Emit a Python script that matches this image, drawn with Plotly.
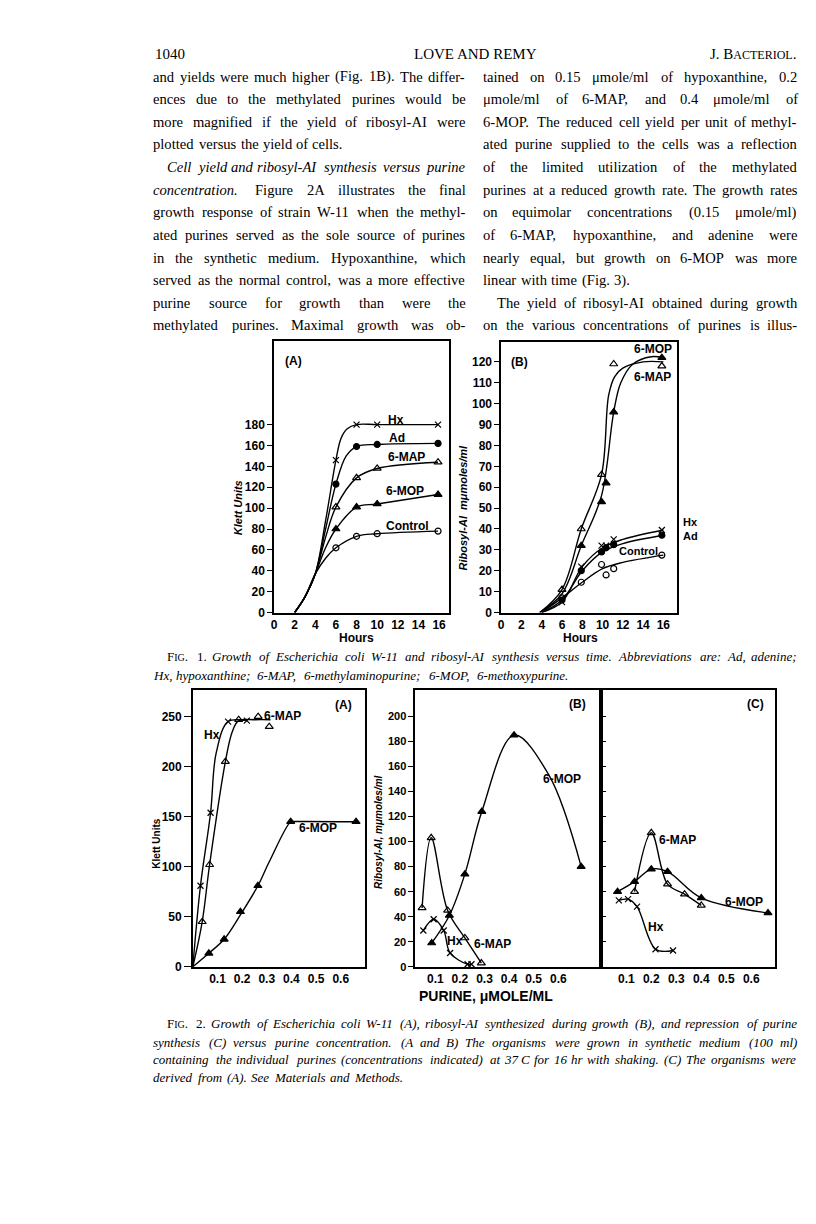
import plotly.graph_objects as go

W, H = 816, 1224

# ---------------- Fig. 1A : Klett units vs hours ----------------
f1a_hours = [6, 8, 10, 15.9]
f1a_hx = [146, 180, 180, 180]
f1a_ad = [123, 159, 161, 162]
f1a_map = [101, 129, 138, 144]
f1a_mop = [80, 101, 104, 113]
f1a_ctrl = [62, 73, 75.5, 78]
# hand-drawn curves (lag phase shared by all series)
lag_x = [2, 3, 4]
lag_y = [0, 15, 37]
f1a_hx_cx = [5, 6, 6.5, 7.1, 8, 10, 15.9]
f1a_hx_cy = [88, 146, 167, 176, 180, 180, 180]
f1a_ad_cx = [5, 6, 7, 8, 10, 15.9]
f1a_ad_cy = [80, 123, 150, 159, 161, 162]
f1a_map_cx = [5, 6, 8, 10, 15.9]
f1a_map_cy = [72, 101, 129, 138, 144]
f1a_mop_cx = [5, 6, 8, 10, 15.9]
f1a_mop_cy = [62, 80, 101, 104, 113]
f1a_ctrl_cx = [5, 6, 8, 10, 15.9]
f1a_ctrl_cy = [52, 62, 73, 75.5, 78]

# ---------------- Fig. 1B : ribosyl-AI vs hours ----------------
f1b_hours = [6, 7.9, 9.9, 10.35, 11.1, 15.85]
f1b_hx = [5, 22, 32, 32, 35, 39.5]
f1b_ad = [6, 20, 29, 31, 32.5, 37]
f1b_ctrl = [7, 14.5, 23, 18, 21, 27.5]
f1b_map_x = [6, 7.9, 9.9, 11.1, 15.85]
f1b_map = [11, 40, 66, 119, 118]
f1b_mop_x = [7.9, 9.9, 10.35, 11.1, 15.85]
f1b_mop = [32, 53, 62, 96, 122]
f1b_map_cx = [3.8, 6, 7.9, 9.9, 10.6, 11.2, 12, 14, 16]
f1b_map_cy = [0, 11, 40, 66, 104, 113, 117, 120, 120]
f1b_mop_cx = [3.8, 6, 7.9, 9.9, 11.1, 11.8, 13, 14.8, 16]
f1b_mop_cy = [0, 9, 32, 56, 96, 110, 119, 122.5, 122]
f1b_low_cx = [4, 6, 8, 10, 12, 16]
f1b_hx_cy = [0, 5, 22, 31, 35, 39.5]
f1b_ad_cy = [0, 6, 20, 29, 33, 37]
f1b_ctrl_cy = [0, 7, 14.5, 21, 24, 27.5]

# ---------------- Fig. 2A : Klett units vs purine ----------------
f2a_hx_x = [0.031, 0.072, 0.143, 0.219]
f2a_hx = [81, 154, 245, 246]
f2a_map_x = [0.038, 0.068, 0.132, 0.186, 0.265, 0.31]
f2a_map = [45, 102, 205, 247, 250, 240]
f2a_mop_x = [0.065, 0.127, 0.193, 0.264, 0.397, 0.662]
f2a_mop = [13.5, 27.5, 55, 81, 145, 145]
f2a_hx_cx = [0, 0.031, 0.072, 0.095, 0.143, 0.22]
f2a_hx_cy = [0, 81, 154, 214, 245, 246]
f2a_map_cx = [0, 0.038, 0.068, 0.132, 0.16, 0.186, 0.25, 0.315]
f2a_map_cy = [0, 45, 102, 205, 235, 246, 247, 247]
f2a_mop_cx = [0, 0.065, 0.127, 0.193, 0.264, 0.31, 0.397, 0.41, 0.662]
f2a_mop_cy = [0, 13.5, 27.5, 52, 81, 105, 145, 145.2, 145]

# ---------------- Fig. 2B : ribosyl-AI vs purine ----------------
f2b_hx_x = [0.051, 0.093, 0.134, 0.16, 0.231, 0.247]
f2b_hx = [29, 38, 29, 11, 2, 2]
f2b_map_x = [0.046, 0.083, 0.15, 0.22, 0.287]
f2b_map = [47, 103, 45, 23, 3]
f2b_mop_x = [0.085, 0.157, 0.22, 0.289, 0.42, 0.693]
f2b_mop = [19, 41, 74, 124, 185, 80]
f2b_mop_cx = [0.085, 0.157, 0.22, 0.289, 0.42, 0.562, 0.693]
f2b_mop_cy = [19, 41, 74, 124, 185, 153, 80]

# ---------------- Fig. 2C : repression vs purine ----------------
f2c_hx_x = [0.07, 0.107, 0.143, 0.217, 0.287]
f2c_hx = [53, 54, 48, 14, 13]
f2c_map_x = [0.133, 0.2, 0.265, 0.333, 0.4]
f2c_map = [60, 107, 66, 58, 49]
f2c_mop_x = [0.065, 0.133, 0.2, 0.265, 0.4, 0.667]
f2c_mop = [60, 68, 78, 76, 55, 43]

SYM = {
    "hx": ("x-thin-open", 6),
    "ad": ("circle", 6),
    "map": ("triangle-up-open", 7),
    "mop": ("triangle-up", 7),
    "ctrl": ("circle-open", 6),
}

fig = go.Figure()


def curve(x, y, n):
    fig.add_trace(go.Scatter(
        x=x, y=y, mode="lines", xaxis="x" + n, yaxis="y" + n,
        line=dict(color="black", width=1.4, shape="spline", smoothing=1.0),
        hoverinfo="skip", showlegend=False))


def marks(x, y, kind, n):
    sym, size = SYM[kind]
    fig.add_trace(go.Scatter(
        x=x, y=y, mode="markers", xaxis="x" + n, yaxis="y" + n, cliponaxis=False,
        marker=dict(symbol=sym, size=size, color="black",
                    line=dict(color="black", width=1.2)),
        showlegend=False))


# Fig 1A
curve(lag_x + f1a_hx_cx, lag_y + f1a_hx_cy, "")
curve(lag_x + f1a_ad_cx, lag_y + f1a_ad_cy, "")
curve(lag_x + f1a_map_cx, lag_y + f1a_map_cy, "")
curve(lag_x + f1a_mop_cx, lag_y + f1a_mop_cy, "")
curve(lag_x + f1a_ctrl_cx, lag_y + f1a_ctrl_cy, "")
marks(f1a_hours, f1a_hx, "hx", "")
marks(f1a_hours, f1a_ad, "ad", "")
marks(f1a_hours, f1a_map, "map", "")
marks(f1a_hours, f1a_mop, "mop", "")
marks(f1a_hours, f1a_ctrl, "ctrl", "")

# Fig 1B
curve(f1b_map_cx, f1b_map_cy, "2")
curve(f1b_mop_cx, f1b_mop_cy, "2")
curve(f1b_low_cx, f1b_hx_cy, "2")
curve(f1b_low_cx, f1b_ad_cy, "2")
curve(f1b_low_cx, f1b_ctrl_cy, "2")
marks(f1b_map_x, f1b_map, "map", "2")
marks(f1b_mop_x, f1b_mop, "mop", "2")
marks(f1b_hours, f1b_hx, "hx", "2")
marks(f1b_hours, f1b_ad, "ad", "2")
marks(f1b_hours, f1b_ctrl, "ctrl", "2")

# Fig 2A
curve(f2a_hx_cx, f2a_hx_cy, "3")
curve(f2a_map_cx, f2a_map_cy, "3")
curve(f2a_mop_cx, f2a_mop_cy, "3")
marks(f2a_hx_x, f2a_hx, "hx", "3")
marks(f2a_map_x, f2a_map, "map", "3")
marks(f2a_mop_x, f2a_mop, "mop", "3")

# Fig 2B
curve(f2b_hx_x, f2b_hx, "4")
curve(f2b_map_x, f2b_map, "4")
curve(f2b_mop_cx, f2b_mop_cy, "4")
marks(f2b_hx_x, f2b_hx, "hx", "4")
marks(f2b_map_x, f2b_map, "map", "4")
marks(f2b_mop_x, f2b_mop, "mop", "4")

# Fig 2C
curve(f2c_hx_x, f2c_hx, "5")
curve(f2c_map_x, f2c_map, "5")
curve(f2c_mop_x, f2c_mop, "5")
marks(f2c_hx_x, f2c_hx, "hx", "5")
marks(f2c_map_x, f2c_map, "map", "5")
marks(f2c_mop_x, f2c_mop, "mop", "5")

TICKFONT = dict(family="Liberation Sans", size=12, color="black", weight="bold")


def ax(x0, x1, **kw):
    d = dict(domain=[x0 / W, x1 / W], showline=True, linecolor="black", linewidth=1.5,
             mirror=True, showgrid=False, zeroline=False, ticks="outside",
             ticklen=5, tickwidth=1.3, tickcolor="black", tickfont=TICKFONT)
    d.update(kw)
    return d


def ay(top, bottom, anchor, **kw):
    d = dict(domain=[1 - bottom / H, 1 - top / H], anchor=anchor, showline=True,
             linecolor="black", linewidth=1.5, mirror=True, showgrid=False,
             zeroline=False, ticks="outside", ticklen=5, tickwidth=1.3,
             tickcolor="black", tickfont=TICKFONT)
    d.update(kw)
    return d


purine_ticks = [0.1, 0.2, 0.3, 0.4, 0.5, 0.6]
purine_text = ["0.1", "0.2", "0.3", "0.4", "0.5", "0.6"]

fig.update_layout(
    width=W, height=H, margin=dict(l=0, r=0, t=0, b=0),
    paper_bgcolor="white", plot_bgcolor="white", showlegend=False,
    xaxis=ax(264, 440, anchor="y", range=[0, 17], tickvals=list(range(0, 17, 2)), ticks=""),
    yaxis=ay(335, 608, "x", range=[0, 260], tickvals=list(range(0, 181, 20))),
    xaxis2=ax(492, 668, anchor="y2", range=[0, 17.3], tickvals=list(range(0, 17, 2)), ticks=""),
    yaxis2=ay(336, 608, "x2", range=[0, 129.5], tickvals=list(range(0, 121, 10))),
    xaxis3=ax(182.5, 355.7, anchor="y3", range=[0, 0.7], tickvals=purine_ticks,
              ticktext=purine_text, ticks=""),
    yaxis3=ay(686, 964.3, "x3", range=[0, 276.6], tickvals=list(range(0, 251, 50)),
              ticklen=7),
    xaxis4=ax(405.7, 592.5, anchor="y4", range=[0.018, 0.775], tickvals=purine_ticks,
              ticktext=purine_text, ticks=""),
    yaxis4=ay(686, 964.3, "x4", range=[0, 221], tickvals=list(range(0, 201, 20)),
              tickfont=dict(TICKFONT, size=11)),
    xaxis5=ax(592.5, 767.3, anchor="y5", range=[0, 0.697], tickvals=purine_ticks,
              ticktext=purine_text, ticks=""),
    yaxis5=ay(686, 964.3, "x5", range=[0, 221], tickvals=list(range(20, 201, 20)),
              ticks="inside", showticklabels=False),
)

ann = []


def label(x, y, text, size=12, bold=True, italic=False, angle=0, anchor="center",
          family="Liberation Sans"):
    t = text
    if italic:
        t = "<i>" + t + "</i>"
    ann.append(dict(x=x / W, y=1 - y / H, xref="paper", yref="paper", text=t,
                    showarrow=False, xanchor=anchor, yanchor="middle", textangle=angle,
                    borderpad=0, borderwidth=0,
                    font=dict(family=family, size=size, color="black",
                              weight="bold" if bold else "normal")))


# in-panel labels
label(284, 355, "(A)")
label(386, 414, "Hx")
label(387, 432, "Ad")
label(397, 452, "6-MAP")
label(395, 486, "6-MOP")
label(398, 521, "Control")
label(228, 503, "Klett Units", size=11, italic=True, angle=-90)
label(347, 634, "Hours")

label(510, 356, "(B)")
label(644, 343, "6-MOP")
label(644, 371, "6-MAP")
label(682, 517, "Hx", size=11)
label(682, 531, "Ad", size=11)
label(630, 546, "Control", size=11)
label(454, 502, "Ribosyl-AI  m\u03bcmoles/ml", size=11, italic=True, angle=-90)
label(572, 634, "Hours")

label(334, 701, "(A)")
label(202, 731, "Hx")
label(273, 712, "6-MAP")
label(308, 825, "6-MOP")
label(146, 840, "Klett Units", size=10, angle=-90)

label(569, 700, "(B)")
label(553, 775, "6-MOP")
label(446, 938, "Hx")
label(483, 941, "6-MAP")
label(369, 829, "Ribosyl-AI, m\u03bcmoles/ml", size=10, italic=True, angle=-90)
label(477, 994, "PURINE, \u03bcMOLE/ML", size=14)

label(747, 700, "(C)")
label(669, 837, "6-MAP")
label(736, 899, "6-MOP")
label(647, 924, "Hx")

# ---------------- page text (justified by word placement) ----------------
ROMAN = dict(zip("abcdefghijklmnopqrstuvwxyz",
                 [444, 500, 444, 500, 444, 333, 500, 500, 278, 278, 500, 278, 778,
                  500, 500, 500, 500, 333, 389, 278, 500, 500, 722, 500, 500, 444]))
ROMAN.update(zip("ABCDEFGHIJKLMNOPQRSTUVWXYZ",
                 [722, 667, 667, 722, 611, 556, 722, 722, 333, 389, 722, 611, 889,
                  722, 722, 556, 722, 667, 556, 611, 722, 722, 944, 722, 722, 611]))
ROMAN.update({".": 250, ",": 250, "-": 333, "(": 333, ")": 333, "/": 278, ":": 278,
              ";": 278, "\u03bc": 576, " ": 250})
ITAL = dict(ROMAN)
ITAL.update(zip("abcdefghijklmnopqrstuvwxyz",
                [500, 500, 444, 500, 444, 278, 500, 500, 278, 278, 444, 278, 722,
                 500, 500, 500, 500, 389, 389, 278, 500, 444, 667, 444, 444, 389]))
ITAL.update(zip("ABCDEFGHIJKLMNOPQRSTUVWXYZ",
                [611, 611, 667, 722, 611, 611, 722, 722, 333, 444, 667, 556, 833,
                 667, 722, 611, 722, 611, 500, 556, 722, 611, 833, 611, 556, 556]))


def width(s, size, italic):
    tab = ITAL if italic else ROMAN
    k = 1.06 if italic else 1.03
    return sum(tab.get(c, 500) for c in s) * size / 1000 * k


def text_line(words, x0, x1, y, size, justify):
    # words: list of (plain, html, italic); every word is left-anchored
    ws = [width(p, size, it) for p, _, it in words]
    gap = size * 0.25
    if justify and len(words) > 1:
        gap = max(size * 0.17, (x1 - x0 - sum(ws)) / (len(words) - 1))
    x = x0
    for i, (p, h, it) in enumerate(words):
        ann.append(dict(x=x / W, y=1 - y / H, xref="paper", yref="paper", text=h,
                        showarrow=False, xanchor="left", yanchor="middle",
                        borderpad=0, borderwidth=0,
                        font=dict(family="Liberation Serif", size=size, color="black")))
        x += ws[i] + gap


def split(line, all_italic=False):
    out = []
    for w in line.split():
        it = all_italic or w.startswith("_")
        p = w.lstrip("_")
        out.append((p, "<i>" + p + "</i>" if it else p, it))
    return out


BODY = 14.6
LEFT0, LEFT1, RIGHT0, RIGHT1 = 143, 457, 474, 790
line_y0, line_dy = 69, 22.75

left_col = [
    "and yields were much higher (Fig. 1B). The differ-",
    "ences due to the methylated purines would be",
    "more magnified if the yield of ribosyl-AI were",
    "plotted versus the yield of cells.",
    "_Cell _yield _and _ribosyl-AI _synthesis _versus _purine",
    "_concentration. Figure 2A illustrates the final",
    "growth response of strain W-11 when the methyl-",
    "ated purines served as the sole source of purines",
    "in the synthetic medium. Hypoxanthine, which",
    "served as the normal control, was a more effective",
    "purine source for growth than were the",
    "methylated purines. Maximal growth was ob-",
]
right_col = [
    "tained on 0.15 \u03bcmole/ml of hypoxanthine, 0.2",
    "\u03bcmole/ml of 6-MAP, and 0.4 \u03bcmole/ml of",
    "6-MOP. The reduced cell yield per unit of methyl-",
    "ated purine supplied to the cells was a reflection",
    "of the limited utilization of the methylated",
    "purines at a reduced growth rate. The growth rates",
    "on equimolar concentrations (0.15 \u03bcmole/ml)",
    "of 6-MAP, hypoxanthine, and adenine were",
    "nearly equal, but growth on 6-MOP was more",
    "linear with time (Fig. 3).",
    "The yield of ribosyl-AI obtained during growth",
    "on the various concentrations of purines is illus-",
]
left_indent = {4}
right_indent = {10}
left_ragged = {3}
right_ragged = {9}

for i, ln in enumerate(left_col):
    x0 = LEFT0 + (14 if i in left_indent else 0)
    text_line(split(ln), x0, LEFT1, line_y0 + i * line_dy, BODY, i not in left_ragged)
for i, ln in enumerate(right_col):
    x0 = RIGHT0 + (14 if i in right_indent else 0)
    text_line(split(ln), x0, RIGHT1, line_y0 + i * line_dy, BODY, i not in right_ragged)

# running head
HEADFONT = dict(family="Liberation Serif", size=15, color="black")
ann.append(dict(x=LEFT0 / W, y=1 - 46 / H, xref="paper", yref="paper", text="1040",
                showarrow=False, xanchor="left", yanchor="middle", font=HEADFONT))
ann.append(dict(x=(LEFT0 + RIGHT1) / 2 / W, y=1 - 46 / H, xref="paper", yref="paper",
                text="LOVE AND REMY", showarrow=False, xanchor="center", yanchor="middle",
                font=HEADFONT))
ann.append(dict(x=RIGHT1 / W, y=1 - 46 / H, xref="paper", yref="paper",
                text="J. B<span style='font-size:12px'>ACTERIOL</span>.",
                showarrow=False, xanchor="right", yanchor="middle", font=HEADFONT))

# captions
CAP = 13.0
SC = "<span style='font-size:10px'>IG</span>"


def caption(lines, ys, first_x, x0, x1):
    for i, (ln, y) in enumerate(zip(lines, ys)):
        words = split(ln, all_italic=True)
        if i == 0:
            words[0] = ("FIG.", "F" + SC + ".", False)
            words[1] = (words[1][0], words[1][0], False)
        text_line(words, first_x if i == 0 else x0, x1, y, CAP, i < len(lines) - 1)


caption(["FIG. 1. Growth of Escherichia coli W-11 and ribosyl-AI synthesis versus time. "
         "Abbreviations are: Ad, adenine;",
         "Hx, hypoxanthine; 6-MAP, 6-methylaminopurine; 6-MOP, 6-methoxypurine."],
        [652, 671], 157, 143, 790)
caption(["FIG. 2. Growth of Escherichia coli W-11 (A), ribosyl-AI synthesized during growth "
         "(B), and repression of purine",
         "synthesis (C) versus purine concentration. (A and B) The organisms were grown in "
         "synthetic medium (100 ml)",
         "containing the individual purines (concentrations indicated) at 37 C for 16 hr "
         "with shaking. (C) The organisms were",
         "derived from (A). See Materials and Methods."],
        [1021, 1040, 1058, 1076], 157, 143, 790)

fig.update_layout(annotations=ann)
fig.write_html("out.html")
